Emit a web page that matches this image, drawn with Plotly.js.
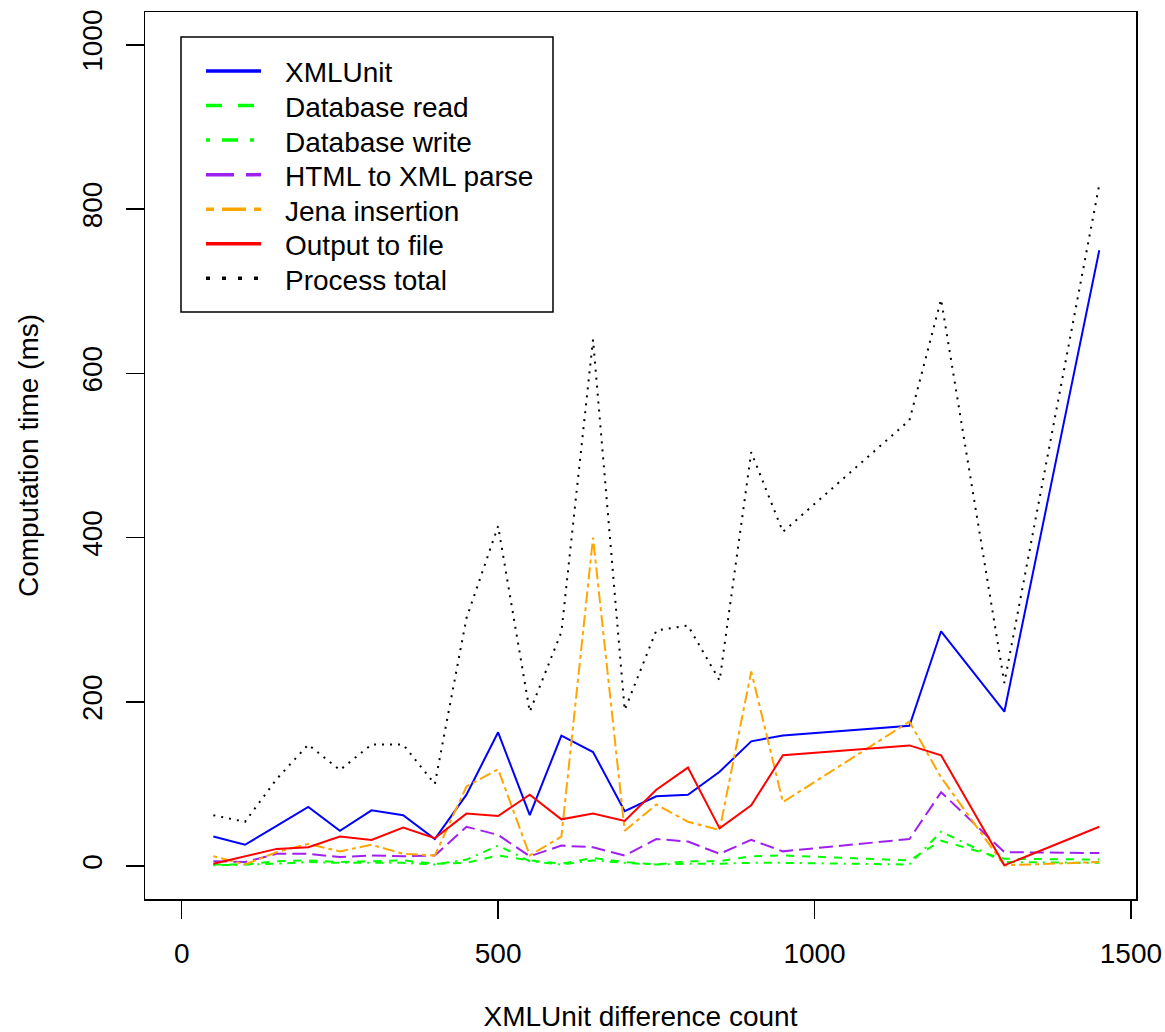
<!DOCTYPE html>
<html>
<head>
<meta charset="utf-8">
<script src="https://cdn.plot.ly/plotly-3.0.1.min.js"></script>
<style>
  html, body { margin: 0; padding: 0; background: #ffffff; }
  #chart { width: 1165px; height: 1032px; }
</style>
</head>
<body>
<div id="chart"></div>
<script>
// XMLUnit difference count (x axis)
var diffCount = [50,100,150,200,250,300,350,400,450,500,550,600,650,700,750,800,850,900,950,1150,1200,1300,1450];

// Computation time (ms) per component
var xmlUnit      = [36,26,49,72,43,68,62,33,87,163,62,159,139,67,85,87,115,152,159,171,286,188,750];
var dbRead       = [2,2,6,7,5,6,7,3,4,13,7,3,10,5,2,6,6,12,13,7,31,9,8];
var dbWrite      = [1,2,3,5,4,4,4,2,8,25,6,2,7,4,2,3,3,4,4,2,42,5,4];
var htmlParse    = [6,5,15,15,11,13,12,13,48,38,12,25,23,13,33,30,15,32,18,33,90,17,16];
var jenaInsert   = [12,2,17,27,18,26,15,13,97,118,13,36,400,43,75,54,44,237,78,176,108,1,5];
var outputFile   = [3,12,21,23,36,32,47,34,64,61,87,57,64,55,93,120,46,74,135,147,135,1,48];
var processTotal = [62,54,106,148,117,148,148,100,302,414,188,285,641,190,287,293,226,504,407,543,690,223,830];

var seriesNames = ["XMLUnit","Database read","Database write","HTML to XML parse","Jena insertion","Output to file","Process total"];
var yTickVals = [0,200,400,600,800,1000];
var xTickVals = [0,500,1000,1500];

// styles (kept separate from the data)
var seriesValues = [xmlUnit, dbRead, dbWrite, htmlParse, jenaInsert, outputFile, processTotal];
var colors     = ["#0000FF","#00FF00","#00FF00","#A020F0","#FFA500","#FF0000","#000000"];
var plotDash   = ["solid","8px,8px","2px,6px,8px,6px","14px,6px","4px,4px,12px,4px","solid","2px,6px"];
var legendDash = ["solid","16px,16px","4px,12px,16px,12px","28px,12px","8px,8px,24px,8px","solid","4px,12px"];

var FONT = "Liberation Sans, Arial, Helvetica, sans-serif";
var FS = 28;

// plot-area geometry in pixels (for converting legend placement to paper coords)
var W = 1165, H = 1032, ML = 145, MR = 29, MT = 12, MB = 133;
var PW = W - ML - MR, PH = H - MT - MB;
function px2paperX(px) { return (px - ML) / PW; }
function px2paperY(py) { return 1 - (py - MT) / PH; }

var data = seriesNames.map(function (name, i) {
  return {
    type: "scatter", mode: "lines", x: diffCount, y: seriesValues[i], name: name,
    showlegend: false,
    line: { color: colors[i], width: 2, dash: plotDash[i] },
    hoverinfo: "x+y+name"
  };
});

// legend drawn as shapes + annotations to reproduce the base-R legend box
var shapes = [
  { type: "rect", xref: "paper", yref: "paper",
    x0: px2paperX(181), x1: px2paperX(553), y0: px2paperY(312), y1: px2paperY(37),
    line: { color: "#000000", width: 1.5 }, fillcolor: "#ffffff", layer: "below" }
];
var annotations = [];
var rowTop = 71, rowStep = 34.55;
seriesNames.forEach(function (name, i) {
  var py = rowTop + i * rowStep;
  shapes.push({
    type: "line", xref: "paper", yref: "paper",
    x0: px2paperX(206), x1: px2paperX(261), y0: px2paperY(py), y1: px2paperY(py),
    line: { color: colors[i], width: 3.5, dash: legendDash[i] }
  });
  annotations.push({
    xref: "paper", yref: "paper", x: px2paperX(283), y: px2paperY(py + 2),
    xanchor: "left", yanchor: "middle", showarrow: false,
    text: name, font: { family: FONT, size: FS, color: "#000000" }
  });
});

var layout = {
  width: W, height: H,
  paper_bgcolor: "#ffffff", plot_bgcolor: "#ffffff",
  font: { family: FONT, size: FS, color: "#000000" },
  margin: { l: ML, r: MR, t: MT, b: MB, pad: 0 },
  showlegend: false,
  shapes: shapes,
  annotations: annotations,
  xaxis: {
    range: [-58, 1508],
    tickmode: "array", tickvals: xTickVals, ticktext: xTickVals.map(String),
    ticks: "outside", ticklen: 18, tickwidth: 1.5, tickcolor: "#000000",
    ticklabelstandoff: 11,
    showline: true, mirror: true, linecolor: "#000000", linewidth: 1.5,
    showgrid: false, zeroline: false,
    tickfont: { family: FONT, size: FS },
    title: { text: "XMLUnit difference count", font: { family: FONT, size: FS }, standoff: 44 },
    automargin: false
  },
  yaxis: {
    range: [-40, 1040],
    tickmode: "array", tickvals: yTickVals, ticktext: yTickVals.map(String),
    tickangle: -90,
    ticks: "outside", ticklen: 18, tickwidth: 1.5, tickcolor: "#000000",
    ticklabelstandoff: 12,
    showline: true, mirror: true, linecolor: "#000000", linewidth: 1.5,
    showgrid: false, zeroline: false,
    tickfont: { family: FONT, size: FS },
    title: { text: "Computation time (ms)", font: { family: FONT, size: FS }, standoff: 30 },
    automargin: false
  }
};

Plotly.newPlot("chart", data, layout, { displayModeBar: false, staticPlot: true });
</script>
</body>
</html>
